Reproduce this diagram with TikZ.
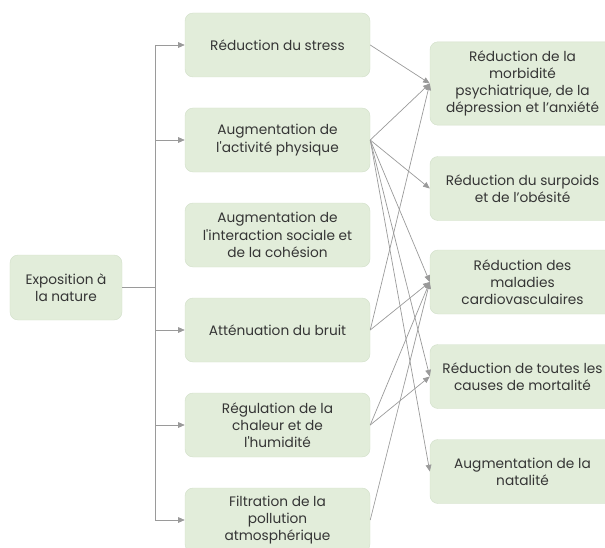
\documentclass[tikz,border=0pt]{standalone}
\usepackage{fontspec}
\setmainfont{Poppins}[Ligatures=TeXOff]
\usepackage{xcolor}
\usepackage{tikz}
\usetikzlibrary{arrows.meta, positioning, calc}
\definecolor{boxgreen}{HTML}{E2EDDA}
\definecolor{boxline}{HTML}{D3E0CA}
\definecolor{linkgray}{HTML}{9A9A9A}
\definecolor{txtgray}{HTML}{353535}
\tikzset{
  block/.style={draw=boxline, fill=boxgreen, rounded corners=2.4mm, align=center, text=txtgray, line width=0.4pt, minimum width=55.5mm, minimum height=19.2mm, inner sep=1mm},
  outcome/.style={block, minimum width=55.5mm},
  source/.style={block, minimum width=33.6mm, minimum height=19.5mm},
  arrow/.style={-{Triangle[length=2mm, width=1.7mm]}, linkgray, line width=0.6pt},
  trunk/.style={linkgray, line width=0.6pt},
  every node/.style={font=\fontsize{11.7}{14.7}\selectfont}
}

\begin{document}
\begin{tikzpicture}[x=0.3mm,y=-0.3mm]
    \useasboundingbox (0,0) rectangle (605,547);
    \clip (0,0) rectangle (605,547);
    \node[source] (expo) at (66,287.5) {Exposition à\\la nature};
    \node[block] (stress) at (277.5,45) {Réduction du stress};
    \node[block] (activ) at (277.5,140) {Augmentation de\\l'activité physique};
    \node[block] (social) at (277.5,235) {Augmentation de\\l'interaction sociale et\\de la cohésion};
    \node[block] (bruit) at (277.5,330) {Atténuation du bruit};
    \node[block] (chaleur) at (277.5,425) {Régulation de la\\chaleur et de\\l'humidité};
    \node[block] (pollu) at (277.5,520) {Filtration de la\\pollution\\atmosphérique};
    \node[outcome, minimum height=25mm] (psy) at (522.5,83.5) {Réduction de la\\morbidité\\psychiatrique, de la\\dépression et l’anxiété};
    \node[outcome] (obes) at (522.5,188.5) {Réduction du surpoids\\et de l’obésité};
    \node[outcome] (cardio) at (522.5,282) {Réduction des\\maladies\\cardiovasculaires};
    \node[outcome] (morta) at (522.5,376.5) {Réduction de toutes les\\causes de mortalité};
    \node[outcome] (nata) at (522.5,471.5) {Augmentation de la\\natalité};
    \coordinate (fork) at (155,287.5);
    \draw[trunk] (expo.east) -- (fork);
    \draw[trunk] (fork |- stress.west) -- (fork |- pollu.west);
    \foreach \b in {stress, activ, bruit, chaleur, pollu}
        \draw[arrow] (fork |- \b.west) -- (\b.west);
    \draw[arrow] (stress.east) -- (psy.west);
    \draw[arrow] (activ.east) -- (psy.west);
    \draw[arrow] (activ.east) -- (obes.west);
    \draw[arrow] (activ.east) -- (cardio.west);
    \draw[arrow] (activ.east) -- (morta.west);
    \draw[arrow] (activ.east) -- (nata.west);
    \draw[arrow] (bruit.east) -- (psy.west);
    \draw[arrow] (bruit.east) -- (cardio.west);
    \draw[arrow] (chaleur.east) -- (cardio.west);
    \draw[arrow] (chaleur.east) -- (morta.west);
    \draw[arrow] (pollu.east) -- (cardio.west);
\end{tikzpicture}
\end{document}
